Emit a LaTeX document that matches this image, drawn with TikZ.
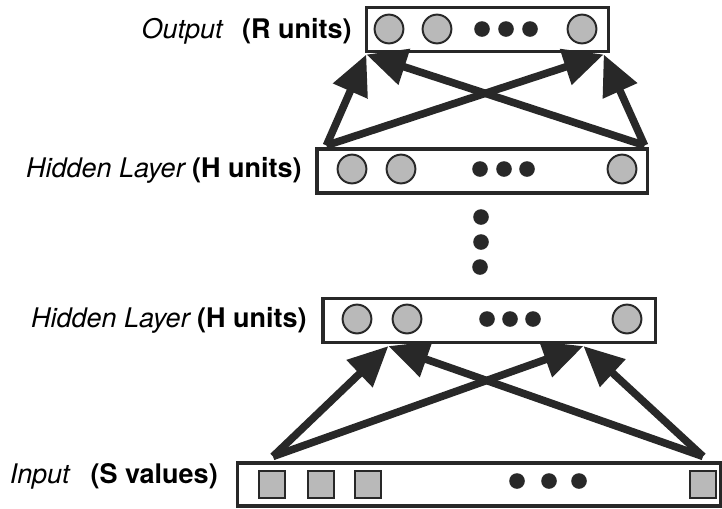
\documentclass[tikz,border=0pt]{standalone}
\usepackage{fontspec}
\setmainfont{TeX Gyre Heros}
\usetikzlibrary{arrows.meta,calc}
\definecolor{ink}{HTML}{282828}
\definecolor{unitgray}{HTML}{B9B9B9}

\begin{document}
\begin{tikzpicture}[x=0.025cm,y=-0.025cm,
  layer/.style={draw=ink,line width=2.2pt,inner sep=0pt},
  unit/.style={circle,draw=ink,fill=unitgray,line width=1.4pt,minimum size=0.72cm,inner sep=0pt},
  val/.style={rectangle,draw=ink,fill=unitgray,line width=1.6pt,minimum width=0.64cm,minimum height=0.68cm,inner sep=0pt},
  dot/.style={circle,fill=ink,minimum size=0.39cm,inner sep=0pt},
  lbl/.style={font=\fontsize{19.2}{23}\selectfont,inner sep=0pt,anchor=base east},
  arr/.style={draw=ink,line width=5.4pt,-{Triangle[length=1.0cm,width=0.9cm]}}]
\useasboundingbox (0,0) rectangle (722,508);
%\draw[help lines] (0,0) grid[step=50] (722,508);
\path
(487.5,29.5) node[layer,minimum width=6.03cm,minimum height=1.12cm] (out) {}
(482,171) node[layer,minimum width=8.25cm,minimum height=1.1cm] (hidB) {}
(489,320.5) node[layer,minimum width=8.3cm,minimum height=1.1cm] (hidA) {}
(479,484.5) node[layer,minimum width=12.05cm,minimum height=1.075cm] (inp) {};
% output units
\path
(389,29) node[unit] (o1) {}
(437,29) node[unit] (o2) {}
(582,29) node[unit] (oR) {}
(482,29) node[dot] {} (506,29) node[dot] {} (530,29) node[dot] {};
% upper hidden layer
\path
(352,169) node[unit] (hb1) {}
(401,169) node[unit] (hb2) {}
(622,169) node[unit] (hbH) {}
(480,169) node[dot] {} (504,169) node[dot] {} (527,169) node[dot] {};
% the layers in between
\path
(481,217) node[dot] (v1) {}
(481,242) node[dot] (v2) {}
(480,267) node[dot] (v3) {};
% lower hidden layer
\path
(357,319) node[unit] (ha1) {}
(407,319) node[unit] (ha2) {}
(627,319) node[unit] (haH) {}
(487,319) node[dot] {} (510,319) node[dot] {} (533,319) node[dot] {};
% input values
\path
(272,484.5) node[val] (s1) {}
(321,484.5) node[val] (s2) {}
(368,484.5) node[val] (s3) {}
(703,484.5) node[val] (sS) {}
(517,481) node[dot] {} (549,481) node[dot] {} (579,481) node[dot] {};
% labels
\path
(223,38) node[lbl] (outN) {\itshape Output}
(352,38) node[lbl] (outU) {\bfseries (R units)}
(185,177) node[lbl] (hidBN) {\itshape Hidden Layer}
(302,177) node[lbl] (hidBU) {\bfseries (H units)}
(190,327) node[lbl] (hidAN) {\itshape Hidden Layer}
(307,327) node[lbl] (hidAU) {\bfseries (H units)}
(70,483) node[lbl] (inpN) {\itshape Input}
(218,483) node[lbl] (inpU) {\bfseries (S values)};
% hidden -> output
\coordinate (hbL) at ($(hidB.north west)+(11,-2)$);
\coordinate (hbR) at ($(hidB.north east)+(-4,-2)$);
\coordinate (oL) at ($(out.south west)+(1,1)$);
\coordinate (oRt) at ($(out.south east)+(-6,1)$);
\draw[arr] (hbL)--(oL);
\draw[arr] (hbL)--(oRt);
\draw[arr] (hbR)--(oL);
\draw[arr] (hbR)--(oRt);
% input -> hidden
\coordinate (inL) at ($(s1 |- inp.north)+(1,-5)$);
\coordinate (inR) at ($(sS |- inp.north)+(0,-5)$);
\coordinate (haL) at ($(hidA.south west)+(67,2)$);
\coordinate (haR) at ($(hidA.south west)+(262,2)$);
\draw[arr] (inL)--(haL);
\draw[arr] (inL)--(haR);
\draw[arr] (inR)--(haL);
\draw[arr] (inR)--(haR);
\end{tikzpicture}
\end{document}
